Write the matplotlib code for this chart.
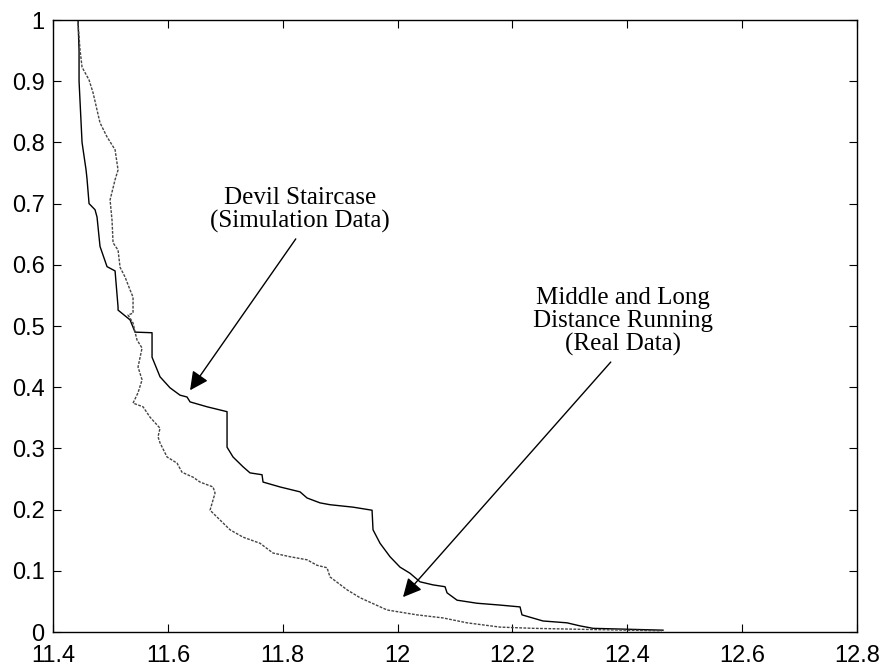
import matplotlib.pyplot as plt

# simulation curve (Devil Staircase)
sim_x = [11.4435, 11.4453, 11.4453, 11.4505, 11.4575, 11.4592, 11.4627, 11.4731, 11.4766,
         11.4818, 11.4940, 11.5080, 11.5132, 11.5132, 11.5341, 11.5428, 11.5724, 11.5724,
         11.5863, 11.6037, 11.6211, 11.6333, 11.6386, 11.6682, 11.7030, 11.7030, 11.7134,
         11.7308, 11.7430, 11.7639, 11.7657, 11.7953, 11.8301, 11.8423, 11.8649, 11.8823,
         11.9224, 11.9555, 11.9572, 11.9694, 11.9868, 12.0042, 12.0216, 12.0390, 12.0617,
         12.0826, 12.0861, 12.1035, 12.1383, 12.1783, 12.2132, 12.2166, 12.2532, 12.2950,
         12.3176, 12.3403, 12.4622]
sim_y = [1.0, 0.95, 0.9, 0.8, 0.755, 0.74, 0.70, 0.69, 0.678,
         0.63, 0.597, 0.59, 0.531, 0.526, 0.51, 0.49, 0.489, 0.449,
         0.417, 0.399, 0.387, 0.384, 0.376, 0.368, 0.36, 0.302, 0.286,
         0.27, 0.26, 0.257, 0.245, 0.237, 0.229, 0.219, 0.211, 0.208,
         0.204, 0.199, 0.167, 0.145, 0.123, 0.106, 0.096, 0.082, 0.077,
         0.074, 0.064, 0.052, 0.047, 0.044, 0.041, 0.028, 0.018, 0.015,
         0.010, 0.006, 0.003]

# real data curve (middle and long distance running)
real_x = [11.4435, 11.4470, 11.4505, 11.4627, 11.4697, 11.4766, 11.4818, 11.4940, 11.5080,
          11.5132, 11.5080, 11.4993, 11.5027, 11.5045, 11.5132, 11.5167, 11.5254, 11.5341,
          11.5393, 11.5393, 11.5306, 11.5393, 11.5428, 11.5463, 11.5550, 11.5480, 11.5550,
          11.5480, 11.5393, 11.5567, 11.5689, 11.5863, 11.5828, 11.5863, 11.5985, 11.6159,
          11.6246, 11.6438, 11.6560, 11.6786, 11.6821, 11.6734, 11.6908, 11.7082, 11.7308,
          11.7604, 11.7831, 11.8127, 11.8423, 11.8597, 11.8771, 11.8823, 11.9119, 11.9346,
          11.9816, 12.0338, 12.0791, 12.1209, 12.1783, 12.2358, 12.3403, 12.46]
real_y = [0.995, 0.951, 0.923, 0.902, 0.881, 0.853, 0.832, 0.809, 0.788,
          0.755, 0.739, 0.706, 0.673, 0.636, 0.624, 0.596, 0.580, 0.559,
          0.547, 0.521, 0.518, 0.505, 0.490, 0.477, 0.464, 0.433, 0.412,
          0.391, 0.374, 0.368, 0.351, 0.333, 0.319, 0.309, 0.286, 0.276,
          0.261, 0.253, 0.245, 0.237, 0.227, 0.199, 0.183, 0.167, 0.155,
          0.145, 0.129, 0.123, 0.118, 0.109, 0.105, 0.090, 0.069, 0.056,
          0.036, 0.028, 0.023, 0.015, 0.008, 0.006, 0.004, 0.002]

xticks = [11.4, 11.6, 11.8, 12.0, 12.2, 12.4, 12.6, 12.8]
xtick_labels = ["11.4", "11.6", "11.8", "12", "12.2", "12.4", "12.6", "12.8"]
yticks = [0, 0.1, 0.2, 0.3, 0.4, 0.5, 0.6, 0.7, 0.8, 0.9, 1]
ytick_labels = ["0", "0.1", "0.2", "0.3", "0.4", "0.5", "0.6", "0.7", "0.8", "0.9", "1"]

fig = plt.figure(figsize=(8.87, 6.69), dpi=100)
ax = fig.add_axes([0.0598, 0.0553, 0.9064, 0.9148])

ax.plot(sim_x, sim_y, color="black", lw=1.0)
ax.plot(real_x, real_y, color="#444444", lw=1.0, linestyle=(0, (2, 1)))

ax.set_xlim(11.4, 12.8)
ax.set_ylim(0, 1)
ax.set_xticks(xticks)
ax.set_xticklabels(xtick_labels)
ax.set_yticks(yticks)
ax.set_yticklabels(ytick_labels)
ax.tick_params(direction="in", length=6, width=0.8, top=True, right=True,
               labelsize=17)
ax.tick_params(axis="x", pad=9)
ax.tick_params(axis="y", pad=6)
for lab in ax.get_xticklabels() + ax.get_yticklabels():
    lab.set_family("Liberation Sans")
for s in ax.spines.values():
    s.set_linewidth(1.0)

ax.annotate("Devil Staircase\n(Simulation Data)", xy=(11.6386, 0.395),
            xytext=(11.830, 0.690), ha="center", va="center",
            family="Liberation Serif", fontsize=18, linespacing=1.05,
            arrowprops=dict(arrowstyle="-|>", color="black", lw=1.0,
                            mutation_scale=28, shrinkA=3, shrinkB=0,
                            relpos=(0.59, 0.5)))
ax.annotate("Middle and Long\nDistance Running\n(Real Data)", xy=(12.0094, 0.057),
            xytext=(12.3925, 0.507), ha="center", va="center",
            family="Liberation Serif", fontsize=18, linespacing=1.05,
            arrowprops=dict(arrowstyle="-|>", color="black", lw=1.0,
                            mutation_scale=28, shrinkA=3, shrinkB=0,
                            relpos=(0.63, 0.5)))

plt.savefig("out.png", dpi=100)
